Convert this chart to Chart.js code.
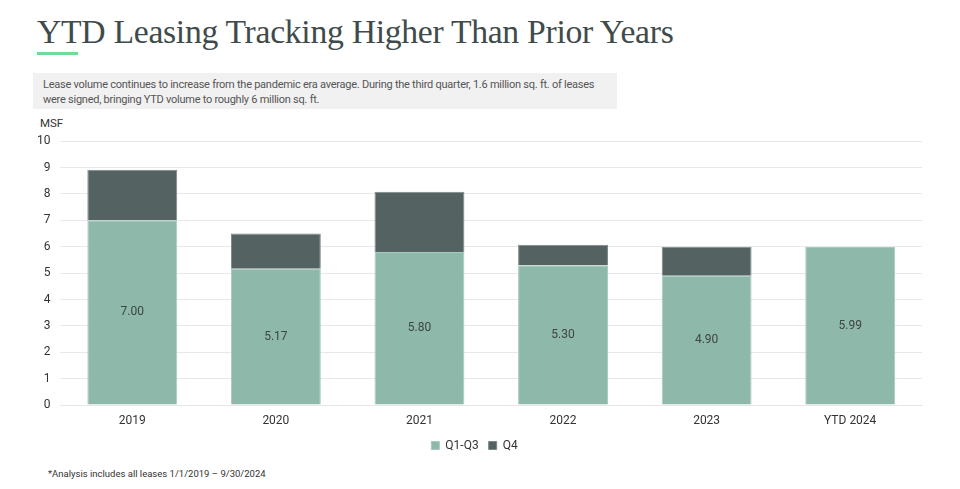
<!DOCTYPE html>
<html>
<head>
<meta charset="utf-8">
<script src="https://cdn.jsdelivr.net/npm/chart.js@4"></script>
<style>
  html,body{margin:0;padding:0;background:#fff;width:960px;height:489px;overflow:hidden;font-family:Roboto,"Liberation Sans",sans-serif;}
  #title{position:absolute;left:37px;top:13px;font-family:"Liberation Serif",serif;font-size:33.7px;color:#3f4b4b;letter-spacing:-0.3px;white-space:nowrap;}
  #bar{position:absolute;left:37px;top:52px;width:41px;height:3px;background:#6fdc96;}
  #sub{position:absolute;left:33px;top:73px;width:584px;height:36px;background:#f1f1f1;box-sizing:border-box;padding:5px 12px 5px 10px;font-size:11px;letter-spacing:-0.25px;line-height:14.5px;color:#555;}
  #msf{position:absolute;left:40px;top:116px;font-size:11.5px;color:#333;}
  #foot{position:absolute;left:48px;top:468px;font-size:9.5px;color:#333;}
  #wrap{position:absolute;left:0;top:123.5px;width:960px;height:337.5px;}
</style>
</head>
<body>
<div id="title">YTD Leasing Tracking Higher Than Prior Years</div>
<div id="bar"></div>
<div id="sub">Lease volume continues to increase from the pandemic era average. During the third quarter, 1.6 million sq. ft. of leases were signed, bringing YTD volume to roughly 6 million sq. ft.</div>
<div id="msf">MSF</div>
<div id="wrap"><canvas id="c"></canvas></div>
<div id="foot">*Analysis includes all leases 1/1/2019 – 9/30/2024</div>
<script>
const categories = ["2019","2020","2021","2022","2023","YTD 2024"];
const q1q3 = [7.00, 5.17, 5.80, 5.30, 4.90, 5.99];
const q4 = [1.92, 1.33, 2.28, 0.78, 1.10, null];
const seriesNames = ["Q1-Q3","Q4"];

const inBarLabels = {
  id:'inBarLabels',
  afterDatasetsDraw(chart){
    const ctx = chart.ctx;
    const meta = chart.getDatasetMeta(0);
    ctx.save();
    ctx.font = '12px Roboto, "Liberation Sans", sans-serif';
    ctx.fillStyle = '#3d4545';
    ctx.textAlign = 'center';
    ctx.textBaseline = 'middle';
    meta.data.forEach((el,i)=>{
      const v = chart.data.datasets[0].data[i];
      const y = (el.y + el.base)/2;
      ctx.fillText(v.toFixed(2), el.x, y);
    });
    ctx.restore();
  }
};

new Chart(document.getElementById('c'), {
  type:'bar',
  data:{
    labels: categories,
    datasets:[
      {label:seriesNames[0], data:q1q3, backgroundColor:'#8db8aa', borderColor:'#a6cabd', borderWidth:1, barPercentage:0.626, categoryPercentage:1},
      {label:seriesNames[1], data:q4, backgroundColor:'#546262', borderColor:'#7c8888', borderWidth:1, barPercentage:0.626, categoryPercentage:1}
    ]
  },
  options:{
    responsive:true, maintainAspectRatio:false, animation:false,
    layout:{padding:{left:27,right:38,top:4,bottom:0}},
    plugins:{
      legend:{position:'bottom', labels:{boxWidth:8, boxHeight:8, padding:10, color:'#333', font:{size:12, family:'Roboto, "Liberation Sans", sans-serif'}}},
      tooltip:{enabled:false}
    },
    scales:{
      x:{stacked:true, grid:{display:false}, border:{display:true,color:'#e6e6e6'}, ticks:{color:'#333', padding:1, font:{size:12, family:'Roboto, "Liberation Sans", sans-serif'}}},
      y:{stacked:true, min:0, max:10, ticks:{stepSize:1, color:'#333', padding:10, font:{size:12, family:'Roboto, "Liberation Sans", sans-serif'}}, grid:{color:'#e8e8e8', drawTicks:false}, border:{display:false}}
    }
  },
  plugins:[inBarLabels]
});
</script>
</body>
</html>
